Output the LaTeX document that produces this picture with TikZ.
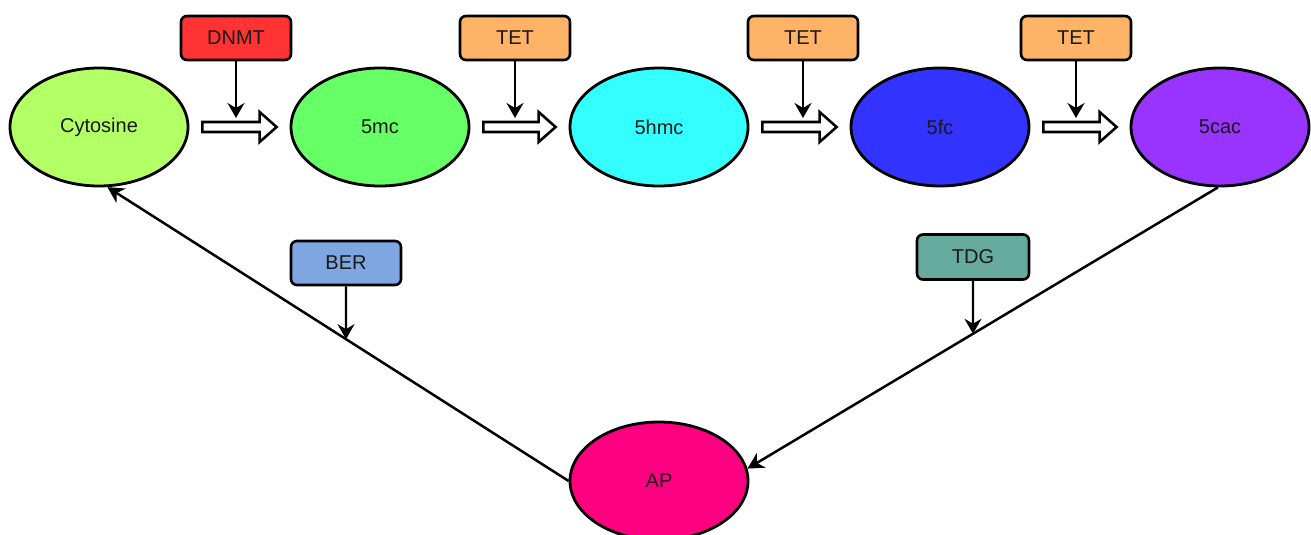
\documentclass[tikz,border=0pt]{standalone}
\usepackage{fontspec}
\setmainfont{Liberation Sans}
\usetikzlibrary{shapes.geometric,arrows.meta,calc,intersections}

\definecolor{cytfill}{HTML}{B3FF66}
\definecolor{mcfill}{HTML}{66FF66}
\definecolor{hmcfill}{HTML}{33FFFF}
\definecolor{fcfill}{HTML}{3333FF}
\definecolor{cacfill}{HTML}{9933FF}
\definecolor{apfill}{HTML}{FF0080}
\definecolor{dnmtfill}{HTML}{FF3333}
\definecolor{tetfill}{HTML}{FFB366}
\definecolor{berfill}{HTML}{7EA6E0}
\definecolor{tdgfill}{HTML}{67AB9F}

\tikzset{
  state/.style={ellipse, draw, line width=2.8pt, minimum width=178pt,
    minimum height=118pt, inner sep=0pt, text=black!90,
    font=\fontsize{20}{24}\selectfont},
  enzyme/.style={rectangle, rounded corners=6pt, draw, line width=2.6pt,
    minimum width=110pt, minimum height=44pt, inner sep=0pt, text=black!90,
    font=\fontsize{20}{24}\selectfont},
  feed/.style={line width=2.4pt, -{Stealth[length=15pt,width=17pt,inset=5pt]}},
  flow/.style={line width=2.5pt, -{Stealth[length=16pt,width=17pt,inset=5pt]}},
  hollow/.style={draw, line width=2.6pt, fill=white, line join=miter}
}

% hollow block arrow between two states, catalysed by an enzyme box
\newcommand\convert[3]{%
  \coordinate (s) at ($(#1.east)+(13,0)$);
  \coordinate (e) at ($(#2.west)+(-13,0)$);
  \draw[hollow] ($(s)+(0,-5)$) -- ($(e)+(-17,-5)$) -- ($(e)+(-17,-15)$) --
    (e) -- ($(e)+(-17,15)$) -- ($(e)+(-17,5)$) -- ($(s)+(0,5)$) -- cycle;
  \coordinate (top) at ($(s)+(0,-9)$);
  \draw[feed] (#3.south) -- (#3.south |- top);
}

\begin{document}
\begin{tikzpicture}[x=1pt,y=-1pt]
\useasboundingbox (0,0) rectangle (1311,535);

% modification states
\node[state, fill=cytfill] (cyt) at (99,127) {Cytosine};
\node[state, fill=mcfill]  (mc)  at (380,127) {5mc};
\node[state, fill=hmcfill] (hmc) at (659,127) {5hmc};
\node[state, fill=fcfill]  (fc)  at (940,127) {5fc};
\node[state, fill=cacfill] (cac) at (1220,127) {5cac};
\node[state, fill=apfill]  (ap)  at (659,481) {AP};

% enzymes
\node[enzyme, fill=dnmtfill] (dnmt) at (236,38) {DNMT};
\node[enzyme, fill=tetfill]  (tet1) at (515,38) {TET};
\node[enzyme, fill=tetfill]  (tet2) at (803,38) {TET};
\node[enzyme, fill=tetfill]  (tet3) at (1076,38) {TET};
\node[enzyme, fill=berfill]  (ber)  at (346,263) {BER};
\node[enzyme, fill=tdgfill, minimum width=112pt, minimum height=45pt] (tdg) at (973,257) {TDG};

% oxidation chain
\convert{cyt}{mc}{dnmt}
\convert{mc}{hmc}{tet1}
\convert{hmc}{fc}{tet2}
\convert{fc}{cac}{tet3}

% excision and repair
\draw[flow, name path=back] (ap.west) -- (cyt.-82);
\draw[flow, name path=down] (cac.-92) -- (ap.8);

\path[name path=bv] (ber.south) -- ++(0,200);
\path[name path=tv] (tdg.south) -- ++(0,200);
\path[name intersections={of=back and bv, by=bx}];
\path[name intersections={of=down and tv, by=tx}];
\draw[feed] (ber.south) -- (bx);
\draw[feed] (tdg.south) -- (tx);
\end{tikzpicture}
\end{document}
